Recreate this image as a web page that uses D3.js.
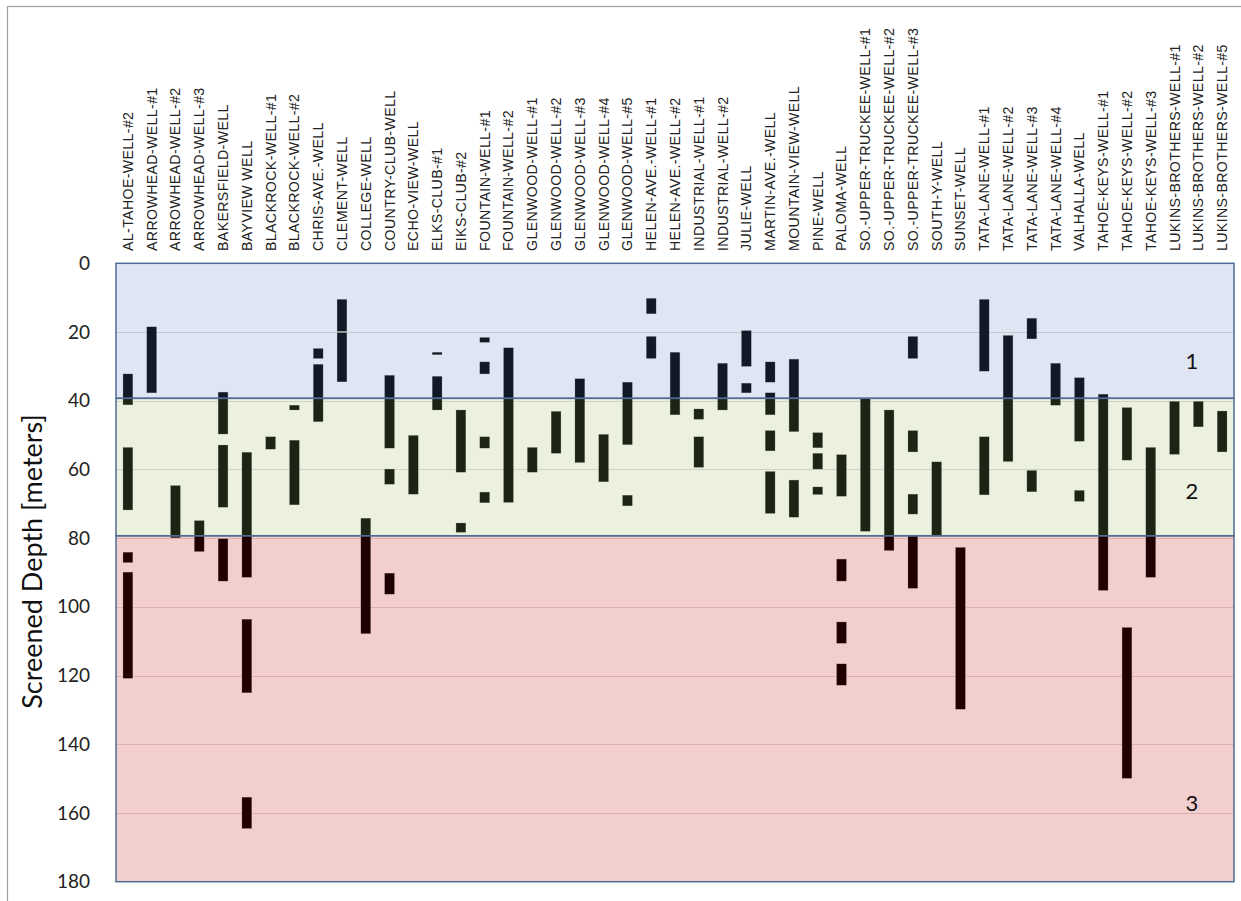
<!DOCTYPE html>
<html>
<head>
<meta charset="utf-8">
<script src="https://cdn.jsdelivr.net/npm/d3@7"></script>
<style>
  html, body { margin: 0; padding: 0; background: #ffffff; }
  svg { display: block; }
</style>
</head>
<body>
<svg id="chart" width="1241" height="901"></svg>
<script>
// ---------------- DATA ----------------
const wells = [
  "AL-TAHOE-WELL-#2", "ARROWHEAD-WELL-#1", "ARROWHEAD-WELL-#2", "ARROWHEAD-WELL-#3",
  "BAKERSFIELD-WELL", "BAYVIEW WELL", "BLACKROCK-WELL-#1", "BLACKROCK-WELL-#2",
  "CHRIS-AVE.-WELL", "CLEMENT-WELL", "COLLEGE-WELL", "COUNTRY-CLUB-WELL",
  "ECHO-VIEW-WELL", "ELKS-CLUB-#1", "EIKS-CLUB-#2", "FOUNTAIN-WELL-#1",
  "FOUNTAIN-WELL-#2", "GLENWOOD-WELL-#1", "GLENWOOD-WELL-#2", "GLENWOOD-WELL-#3",
  "GLENWOOD-WELL-#4", "GLENWOOD-WELL-#5", "HELEN-AVE.-WELL-#1", "HELEN-AVE.-WELL-#2",
  "INDUSTRIAL-WELL-#1", "INDUSTRIAL-WELL-#2", "JULIE-WELL", "MARTIN-AVE.-WELL",
  "MOUNTAIN-VIEW-WELL", "PINE-WELL", "PALOMA-WELL", "SO.-UPPER-TRUCKEE-WELL-#1",
  "SO.-UPPER-TRUCKEE-WELL-#2", "SO.-UPPER-TRUCKEE-WELL-#3", "SOUTH-Y-WELL", "SUNSET-WELL",
  "TATA-LANE-WELL-#1", "TATA-LANE-WELL-#2", "TATA-LANE-WELL-#3", "TATA-LANE-WELL-#4",
  "VALHALLA-WELL", "TAHOE-KEYS-WELL-#1", "TAHOE-KEYS-WELL-#2", "TAHOE-KEYS-WELL-#3",
  "LUKINS-BROTHERS-WELL-#1", "LUKINS-BROTHERS-WELL-#2", "LUKINS-BROTHERS-WELL-#5"
];

// screened intervals per well: [top depth, bottom depth] in meters
const screens = [
  [[32.2, 41.2], [53.6, 71.8], [84.1, 87.1], [89.9, 120.8]],
  [[18.5, 37.7]],
  [[64.7, 79.9]],
  [[74.9, 83.9]],
  [[37.5, 49.7], [52.9, 71.0], [80.2, 92.5]],
  [[55.0, 91.4], [103.6, 125.0], [155.4, 164.5]],
  [[50.5, 54.1]],
  [[41.3, 42.7], [51.5, 70.3]],
  [[24.8, 27.7], [29.4, 46.1]],
  [[10.5, 19.8], [20.2, 34.5]],
  [[74.2, 107.8]],
  [[32.6, 53.8], [59.9, 64.3], [90.2, 96.3]],
  [[50.1, 67.2]],
  [[25.9, 26.6], [32.9, 42.7]],
  [[42.7, 60.8], [75.6, 78.3]],
  [[21.6, 23.0], [28.7, 32.2], [50.5, 53.8], [66.6, 69.7]],
  [[24.6, 69.6]],
  [[53.6, 60.8]],
  [[43.1, 55.3]],
  [[33.6, 58.0]],
  [[49.8, 63.6]],
  [[34.6, 52.8], [67.5, 70.6]],
  [[10.2, 14.7], [21.3, 27.7]],
  [[25.9, 44.1]],
  [[42.4, 45.4], [50.5, 59.4]],
  [[29.1, 42.7]],
  [[19.6, 30.0], [34.9, 37.7]],
  [[28.7, 34.6], [37.7, 44.1], [48.7, 54.6], [60.6, 72.8]],
  [[27.9, 49.0], [63.1, 73.9]],
  [[49.3, 53.7], [55.3, 59.9], [65.1, 67.3]],
  [[55.7, 67.8], [86.1, 92.5], [104.4, 110.6], [116.6, 122.8]],
  [[39.3, 78.0]],
  [[42.7, 83.6]],
  [[21.3, 27.7], [48.7, 54.9], [67.2, 73.0], [79.3, 94.6]],
  [[57.8, 79.1]],
  [[82.7, 129.8]],
  [[10.5, 31.4], [50.5, 67.4]],
  [[21.0, 57.7]],
  [[16.0, 22.0], [60.3, 66.5]],
  [[29.1, 41.3]],
  [[33.3, 51.8], [66.1, 69.3]],
  [[38.1, 95.2]],
  [[42.0, 57.3], [106.0, 149.9]],
  [[53.6, 91.4]],
  [[40.2, 55.6]],
  [[40.2, 47.6]],
  [[43.0, 54.9]]
];

const zoneNames = ["1", "2", "3"];
const zoneTop = [0, 39.3, 79.3];
const zoneBottom = [39.3, 79.3, 180];
const zoneLabelDepth = [28.2, 66.0, 157.0];
const depthTicks = [0, 20, 40, 60, 80, 100, 120, 140, 160, 180];
const yTitle = "Screened Depth [meters]";

// ---------------- STYLE ----------------
const zoneFill = ["#dfe5f2", "#ebf0df", "#f2cece"];
const zoneGrid = ["#c6c9d0", "#cfd3c6", "#dbb0b0"];
const barFill = ["#111827", "#1e2414", "#200000"];
const zoneStroke = "#4f6c93";

const M = { left: 116, right: 1234, top: 263.3, bottom: 881.7 };

const svg = d3.select("#chart");

// outer frame
svg.append("rect")
  .attr("x", 7.5).attr("y", 6.5)
  .attr("width", 1240).attr("height", 920)
  .attr("fill", "none").attr("stroke", "#a0a0a0").attr("stroke-width", 1.2);

const x = d3.scaleBand()
  .domain(d3.range(wells.length))
  .range([M.left, M.right])
  .paddingInner(0.59)
  .paddingOuter(0.295);

const y = d3.scaleLinear().domain([0, 180]).range([M.top, M.bottom]);

// zones
const zones = zoneNames.map((n, i) => ({ name: n, top: zoneTop[i], bottom: zoneBottom[i], i }));

svg.append("g").selectAll("rect").data(zones).join("rect")
  .attr("x", M.left).attr("width", M.right - M.left)
  .attr("y", d => y(d.top)).attr("height", d => y(d.bottom) - y(d.top))
  .attr("fill", d => zoneFill[d.i]);

// grid lines
const gridG = svg.append("g");
depthTicks.filter(t => t > 0 && t < 180).forEach(t => {
  const zi = zones.findIndex(z => t >= z.top && t < z.bottom);
  gridG.append("line")
    .attr("x1", M.left).attr("x2", M.right)
    .attr("y1", Math.round(y(t)) + 0.5).attr("y2", Math.round(y(t)) + 0.5)
    .attr("stroke", zoneGrid[zi]).attr("stroke-width", 1.2);
});

// bars split by zone
const pieces = [];
screens.forEach((ivs, wi) => {
  ivs.forEach(([a, b]) => {
    zones.forEach(z => {
      const t = Math.max(a, z.top), bt = Math.min(b, z.bottom);
      if (bt > t) pieces.push({ wi, top: t, bottom: bt, zi: z.i });
    });
  });
});

svg.append("g").selectAll("rect").data(pieces).join("rect")
  .attr("x", d => x(d.wi))
  .attr("width", x.bandwidth())
  .attr("y", d => y(d.top))
  .attr("height", d => Math.max(1, y(d.bottom) - y(d.top)))
  .attr("fill", d => barFill[d.zi])
  .attr("stroke", "#8a8a7a").attr("stroke-width", 0.4).attr("stroke-opacity", 0.6);

// zone outlines
svg.append("g").selectAll("rect").data(zones).join("rect")
  .attr("x", M.left).attr("width", M.right - M.left)
  .attr("y", d => y(d.top)).attr("height", d => y(d.bottom) - y(d.top))
  .attr("fill", "none").attr("stroke", zoneStroke).attr("stroke-width", 1.5);

// zone labels
svg.append("g").selectAll("text").data(zones).join("text")
  .attr("x", 1192)
  .attr("y", d => y(zoneLabelDepth[d.i]))
  .attr("text-anchor", "middle").attr("dominant-baseline", "central")
  .attr("font-family", "Lato, 'Open Sans', sans-serif").attr("font-size", 22)
  .attr("fill", "#111")
  .text(d => d.name);

// y axis
const yAxis = d3.axisLeft(y).tickValues(depthTicks).tickSize(0).tickPadding(26);
const yg = svg.append("g").attr("transform", `translate(${M.left},0)`).call(yAxis);
yg.select(".domain").remove();
yg.selectAll("text")
  .attr("font-family", "Lato, 'Open Sans', sans-serif")
  .attr("font-size", 19).attr("fill", "#222");

svg.append("text")
  .attr("transform", `translate(31,${(M.top + M.bottom) / 2 - 11}) rotate(-90)`)
  .attr("text-anchor", "middle").attr("dominant-baseline", "central")
  .attr("font-family", "Lato, 'Open Sans', sans-serif").attr("font-size", 27)
  .attr("fill", "#111")
  .text(yTitle);

// category labels (top, rotated)
const xAxis = d3.axisTop(x).tickFormat(i => wells[i]).tickSize(0).tickPadding(0);
const xg = svg.append("g").attr("transform", `translate(0,251)`).call(xAxis);
xg.select(".domain").remove();
xg.selectAll("text")
  .attr("transform", "rotate(-90)")
  .attr("x", 0).attr("y", 0).attr("dy", "0.35em")
  .attr("text-anchor", "start")
  .attr("font-family", "'Liberation Sans', Arial, sans-serif")
  .attr("font-size", 14.2).attr("letter-spacing", 0.35).attr("fill", "#222");
</script>
</body>
</html>
